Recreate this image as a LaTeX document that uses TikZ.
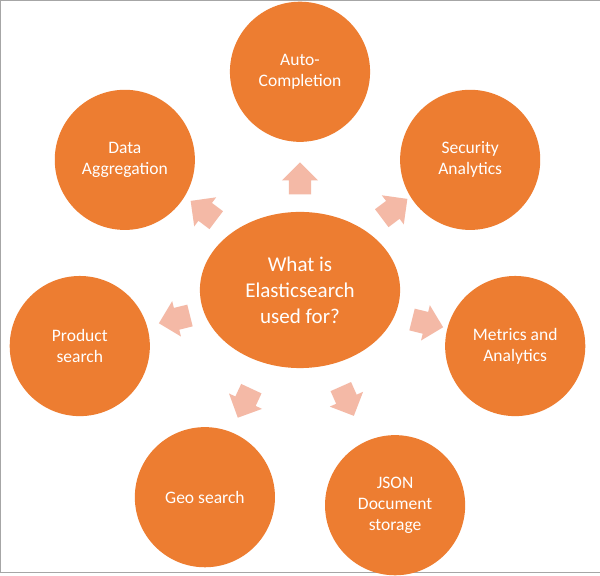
\documentclass[tikz,border=0pt]{standalone}
\usepackage{fontspec}
\setmainfont{Carlito}
\usetikzlibrary{shapes.arrows,shapes.geometric}
\definecolor{orng}{HTML}{ED7D31}
\definecolor{pnk}{HTML}{F4B9A6}
\begin{document}
\begin{tikzpicture}[x=1pt,y=-1pt,
  outer/.style={circle,fill=orng,minimum size=140pt,inner sep=0pt,text=white,align=center,font=\fontsize{17.5}{21}\selectfont},
  blockarr/.style={single arrow,fill=pnk,minimum height=32pt,minimum width=36pt,single arrow head extend=7pt,inner xsep=0pt,inner ysep=11pt,text height=0pt,text depth=0pt,text width=0pt}]
\draw[gray!70,fill=white] (0.5,0.5) rectangle (599.5,571.5);
\node[ellipse,fill=orng,minimum width=200pt,minimum height=156pt,text=white,align=center,font=\fontsize{21}{26}\selectfont] (c) at (300,290) {What is\\Elasticsearch\\used for?};
\node[outer] (a1) at (300,72) {Auto-\\Completion};
\node[outer] (a2) at (470,160) {Security\\Analytics};
\node[outer] (a3) at (515,346) {Metrics and\\Analytics};
\node[outer] (a4) at (395,505) {JSON\\Document\\storage};
\node[outer] (a5) at (205,497) {Geo search};
\node[outer] (a6) at (80,346) {Product\\search};
\node[outer] (a7) at (125,160) {Data\\Aggregation};
\node[blockarr,rotate=90] (b1) at (300,184) {};
\node[blockarr,rotate=37] (b2) at (390,212) {};
\node[blockarr,rotate=-14] (b3) at (422,322) {};
\node[blockarr,rotate=-66] (b4) at (345,396) {};
\node[blockarr,rotate=-115] (b5) at (247,398) {};
\node[blockarr,rotate=-166] (b6) at (180,318) {};
\node[blockarr,rotate=143] (b7) at (208,214) {};
\end{tikzpicture}
\end{document}
